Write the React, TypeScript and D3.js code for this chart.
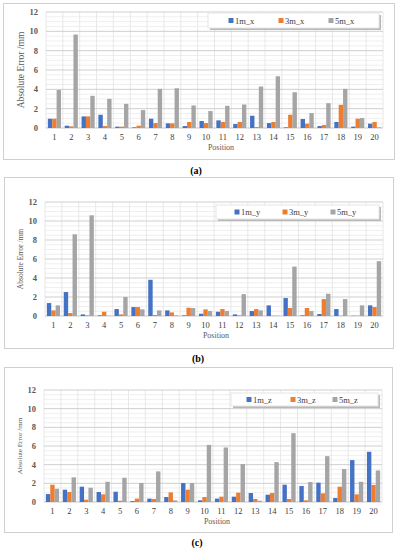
import React, { useEffect, useRef } from 'react';
import * as d3 from 'd3';

const positions = d3.range(1, 21).map(String);
const seriesColors = ['#4472C4', '#ED7D31', '#A5A5A5'];
const yTicks = [0, 2, 4, 6, 8, 10, 12];

// panel (a) – x direction
const names_x = ['1m_x', '3m_x', '5m_x'];
const e1m_x = [0.96, 0.24, 1.2, 1.37, 0.14, 0.07, 0.96, 0.48, 0.2, 0.72, 0.79, 0.41, 1.27, 0.51, 0.07, 0.93, 0.2, 0.62, 0.14, 0.45];
const e3m_x = [0.96, 0.17, 1.2, 0.2, 0.14, 0.24, 0.51, 0.48, 0.62, 0.51, 0.62, 0.62, 0.1, 0.62, 1.37, 0.45, 0.31, 2.4, 0.96, 0.62];
const e5m_x = [3.94, 9.67, 3.33, 3.02, 2.5, 1.85, 4.05, 4.11, 2.33, 1.75, 2.3, 2.43, 4.29, 5.35, 3.7, 1.54, 2.57, 4.05, 1.03, 0.07];

// panel (b) – y direction
const names_y = ['1m_y', '3m_y', '5m_y'];
const e1m_y = [1.36, 2.52, 0.17, 0.07, 0.73, 0.94, 3.81, 0.59, 0.07, 0.24, 0.45, 0.17, 0.52, 1.12, 1.89, 0.07, 0.21, 0.73, 0.03, 1.12];
const e3m_y = [0.59, 0.31, 0.07, 0.45, 0.17, 0.94, 0.1, 0.38, 0.87, 0.7, 0.73, 0.07, 0.73, 0.03, 0.84, 0.84, 1.78, 0.03, 0.03, 0.94];
const e5m_y = [1.12, 8.6, 10.6, 0.03, 2.0, 0.7, 0.59, 0.07, 0.84, 0.52, 0.52, 2.3, 0.59, 0.03, 5.2, 0.52, 2.34, 1.78, 1.12, 5.77];

// panel (c) – z direction
const names_z = ['1m_z', '3m_z', '5m_z'];
const e1m_z = [0.85, 1.32, 1.64, 1.07, 1.1, 0.1, 0.36, 0.53, 2.03, 0.18, 0.36, 0.57, 0.96, 0.78, 1.85, 1.71, 2.07, 0.43, 4.49, 5.38];
const e3m_z = [1.85, 1.07, 0.25, 0.82, 0.14, 0.36, 0.32, 1.03, 1.32, 0.53, 0.57, 1.0, 0.32, 0.96, 0.32, 0.18, 0.93, 1.64, 0.82, 1.82];
const e5m_z = [1.42, 2.64, 1.53, 2.17, 2.6, 2.03, 3.28, 0.18, 2.03, 6.12, 5.84, 4.06, 0.14, 4.27, 7.37, 2.14, 4.91, 3.53, 2.17, 3.38];

interface Layout {
  frame: [number, number, number, number];
  plot: [number, number, number, number];
  legend: [number, number, number, number];
  legendItems: number[];
  titleSize: number;
  posX: number;
  caption: [number, number];
}

const FONT = 'Liberation Serif';

const Panel: React.FC<{ names: string[]; series: number[][]; label: string; layout: Layout }> = ({ names, series, label, layout }) => {
  const ref = useRef<SVGGElement>(null);

  useEffect(() => {
    if (!ref.current) return;
    const g = d3.select(ref.current);
    g.selectAll('*').remove();
    const [fx, fy, fw, fh] = layout.frame;
    const [px, py, pw, ph] = layout.plot;

    g.append('rect')
      .attr('x', fx).attr('y', fy).attr('width', fw).attr('height', fh)
      .attr('fill', 'white').attr('stroke', '#d0d0d0').attr('stroke-width', 1);

    const x = d3.scaleBand().domain(positions).range([px, px + pw]).paddingInner(0.22).paddingOuter(0.11);
    const xs = d3.scaleBand().domain(names).range([0, x.bandwidth()]);
    const y = d3.scaleLinear().domain([0, 12]).range([py + ph, py]);

    // minor gridlines
    g.selectAll('.minor')
      .data(d3.range(0, 12.01, 0.5).filter(v => v % 2 !== 0))
      .enter().append('line')
      .attr('x1', px).attr('x2', px + pw)
      .attr('y1', d => y(d)).attr('y2', d => y(d))
      .attr('stroke', '#ebebeb').attr('stroke-width', 0.8);

    // vertical gridlines
    const step = pw / positions.length;
    g.selectAll('.vgrid')
      .data(d3.range(0, positions.length + 1))
      .enter().append('line')
      .attr('x1', i => px + i * step).attr('x2', i => px + i * step)
      .attr('y1', py).attr('y2', py + ph)
      .attr('stroke', '#e2e2e2').attr('stroke-width', 0.8);

    // major gridlines
    g.selectAll('.major')
      .data(yTicks)
      .enter().append('line')
      .attr('x1', px).attr('x2', px + pw)
      .attr('y1', d => y(d)).attr('y2', d => y(d))
      .attr('stroke', d => (d === 0 ? '#c8c8c8' : '#cfcfcf')).attr('stroke-width', 1);

    // bars
    names.forEach((n, si) => {
      g.append('g').selectAll('rect')
        .data(series[si])
        .enter().append('rect')
        .attr('x', (_, i) => (x(positions[i]) as number) + (xs(n) as number))
        .attr('width', xs.bandwidth())
        .attr('y', d => y(d))
        .attr('height', d => y(0) - y(d))
        .attr('fill', seriesColors[si]);
    });

    // y ticks
    g.selectAll('.ytick')
      .data(yTicks)
      .enter().append('text')
      .attr('x', px - 8).attr('y', d => y(d) + 3)
      .attr('text-anchor', 'end')
      .attr('font-family', FONT).attr('font-size', 8.5).attr('font-weight', 'bold')
      .attr('fill', '#595959')
      .text(d => d);

    // x ticks
    g.selectAll('.xtick')
      .data(positions)
      .enter().append('text')
      .attr('x', d => (x(d) as number) + x.bandwidth() / 2)
      .attr('y', py + ph + 12)
      .attr('text-anchor', 'middle')
      .attr('font-family', FONT).attr('font-size', 8.5)
      .attr('fill', '#404040')
      .text(d => d);

    g.append('text')
      .attr('x', layout.posX).attr('y', py + ph + 22)
      .attr('text-anchor', 'middle')
      .attr('font-family', FONT).attr('font-size', 8)
      .attr('fill', '#595959')
      .text('Position');

    g.append('text')
      .attr('transform', `translate(${px - 22},${py + ph / 2}) rotate(-90)`)
      .attr('text-anchor', 'middle')
      .attr('font-family', FONT).attr('font-size', layout.titleSize)
      .attr('fill', '#595959')
      .text('Absolute Error /mm');

    // legend
    const [lx, ly, lw, lh] = layout.legend;
    g.append('rect').attr('x', lx + 2).attr('y', ly + 2).attr('width', lw).attr('height', lh).attr('fill', '#b8b8b8');
    g.append('rect').attr('x', lx).attr('y', ly).attr('width', lw).attr('height', lh).attr('fill', 'white').attr('stroke', '#e6e6e6');
    names.forEach((n, i) => {
      const ix = layout.legendItems[i];
      g.append('rect').attr('x', ix - 2.5).attr('y', ly + lh / 2 - 2.5).attr('width', 5).attr('height', 5).attr('fill', seriesColors[i]);
      g.append('text')
        .attr('x', ix + 4).attr('y', ly + lh / 2 + 3)
        .attr('font-family', FONT).attr('font-size', 8.5).attr('fill', '#404040')
        .text(n);
    });

    g.append('text')
      .attr('x', layout.caption[0]).attr('y', layout.caption[1] + 3.5)
      .attr('text-anchor', 'middle')
      .attr('font-family', FONT).attr('font-size', 10).attr('font-weight', 'bold')
      .attr('fill', '#000')
      .text(label);
  }, [names, series, label, layout]);

  return <g ref={ref} />;
};

const layoutA: Layout = {
  frame: [3.5, 3.5, 391, 156], plot: [46, 12, 337, 116],
  legend: [208, 13, 171, 15], legendItems: [231, 281, 331],
  titleSize: 9.5, posX: 221, caption: [196, 170],
};
const layoutB: Layout = {
  frame: [4.5, 177.5, 389, 171], plot: [45, 202, 338, 114],
  legend: [216, 205, 163, 14], legendItems: [237, 285, 333],
  titleSize: 7.5, posX: 216, caption: [198, 358],
};
const layoutC: Layout = {
  frame: [4.5, 367.5, 388, 165], plot: [44, 390, 338, 112],
  legend: [231, 393, 147, 13], legendItems: [249, 293, 335],
  titleSize: 7, posX: 217, caption: [197, 542],
};

export default function App() {
  return (
    <div style={{ position: 'absolute', left: 0, top: 0 }}>
      <svg width={398} height={550} style={{ display: 'block', background: 'white' }}>
        <Panel names={names_x} series={[e1m_x, e3m_x, e5m_x]} label="(a)" layout={layoutA} />
        <Panel names={names_y} series={[e1m_y, e3m_y, e5m_y]} label="(b)" layout={layoutB} />
        <Panel names={names_z} series={[e1m_z, e3m_z, e5m_z]} label="(c)" layout={layoutC} />
      </svg>
    </div>
  );
}
